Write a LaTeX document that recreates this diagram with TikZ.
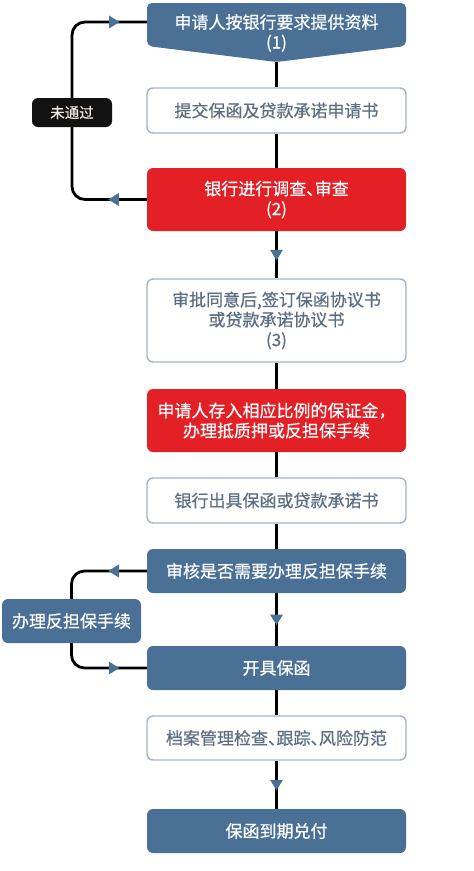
\documentclass[tikz,border=0pt]{standalone}
\usepackage{fontspec}
\setmainfont{Noto Sans CJK SC}[FakeBold=0.5]
\usetikzlibrary{decorations.markings,backgrounds}
\definecolor{cblue}{RGB}{74,112,150}
\definecolor{cred}{RGB}{226,32,38}
\definecolor{cgray}{RGB}{92,110,130}
\definecolor{cborder}{RGB}{165,180,196}
\definecolor{cblack}{RGB}{18,18,18}
\definecolor{cbeige}{RGB}{240,232,220}
\newcommand{\dun}{、\hspace{-0.5em}}
\tikzset{
  box/.style={rounded corners=6pt, minimum width=259pt, align=center, inner sep=0pt,
    font=\fontsize{17}{20}\selectfont},
  bluebox/.style={box, fill=cblue, text=white},
  redbox/.style={box, fill=cred, text=white},
  whitebox/.style={box, draw=cborder, line width=1.4pt, fill=white, text=cgray},
  conn/.style={line width=2.8pt, black},
  tri/.style={fill=cblue, sharp corners},
  midarrow/.style={postaction={decorate}, decoration={markings,
    mark=at position 0.5 with {\fill[tri] (-5pt,-6.5pt) -- (5.5pt,0pt) -- (-5pt,6.5pt) -- cycle;}}},
  looparrows/.style={postaction={decorate}, decoration={markings,
    mark=at position 33pt with {\fill[tri] (-5pt,-6.5pt) -- (5.5pt,0pt) -- (-5pt,6.5pt) -- cycle;},
    mark=at position -33pt with {\fill[tri] (-5pt,-6.5pt) -- (5.5pt,0pt) -- (-5pt,6.5pt) -- cycle;}}},
}
\begin{document}
\begin{tikzpicture}[x=1pt,y=-1pt]
\useasboundingbox (0,0) rectangle (474,871);
% box 1 (pointed bottom)
\fill[cblue, rounded corners=5pt] (147,46) -- (147,3) -- (406,3) -- (406,46) -- (276.5,62) -- cycle;
\node[box, text=white, minimum height=58pt] (b1) at (276.5,33) {申请人按银行要求提供资料\\(1)};
\coordinate (b1in) at (147,22);
\node[whitebox, minimum height=45pt] (b2) at (276.5,110.5) {提交保函及贷款承诺申请书};
\node[redbox, minimum height=63pt] (b3) at (276.5,199.5) {银行进行调查\dun 审查\\(2)};
\node[whitebox, minimum height=83pt] (b4) at (276.5,320.5) {审批同意后,签订保函协议书\\或贷款承诺协议书\\(3)};
\node[redbox, minimum height=63pt] (b5) at (276.5,420.5) {申请人存入相应比例的保证金，\\办理抵质押或反担保手续};
\node[whitebox, minimum height=45pt] (b6) at (276.5,500.5) {银行出具保函或贷款承诺书};
\node[bluebox, minimum height=44pt] (b7) at (276.5,571) {审核是否需要办理反担保手续};
\node[bluebox, minimum height=44pt] (b8) at (276.5,668) {开具保函};
\node[whitebox, minimum height=44pt] (b9) at (276.5,738) {档案管理检查\dun 跟踪\dun 风险防范};
\node[bluebox, minimum height=44pt] (b10) at (276.5,831) {保函到期兑付};
% side boxes
\node[box, fill=cblack, text=cbeige, minimum width=80pt, minimum height=29pt,
  font=\fontsize{14.5}{18}\selectfont] (fail) at (72,112.5) {未通过};
\node[bluebox, minimum width=139pt, minimum height=44pt] (cp) at (71.5,621) {办理反担保手续};
\begin{pgfonlayer}{background}
\draw[conn] (b1.south) -- (b2.north);
\draw[conn] (b2.south) -- (b3.north);
\draw[conn, midarrow] (b3.south) -- (b4.north);
\draw[conn] (b4.south) -- (b5.north);
\draw[conn] (b5.south) -- (b6.north);
\draw[conn] (b6.south) -- (b7.north);
\draw[conn, midarrow] (b7.south) -- (b8.north);
\draw[conn] (b8.south) -- (b9.north);
\draw[conn, midarrow] (b9.south) -- (b10.north);
\draw[conn, rounded corners=13pt, looparrows] (b3.west) -| (fail.center) |- (b1in);
\draw[conn, rounded corners=13pt, looparrows] (b7.west) -| (cp.center) |- (b8.west);
\end{pgfonlayer}
\end{tikzpicture}
\end{document}
